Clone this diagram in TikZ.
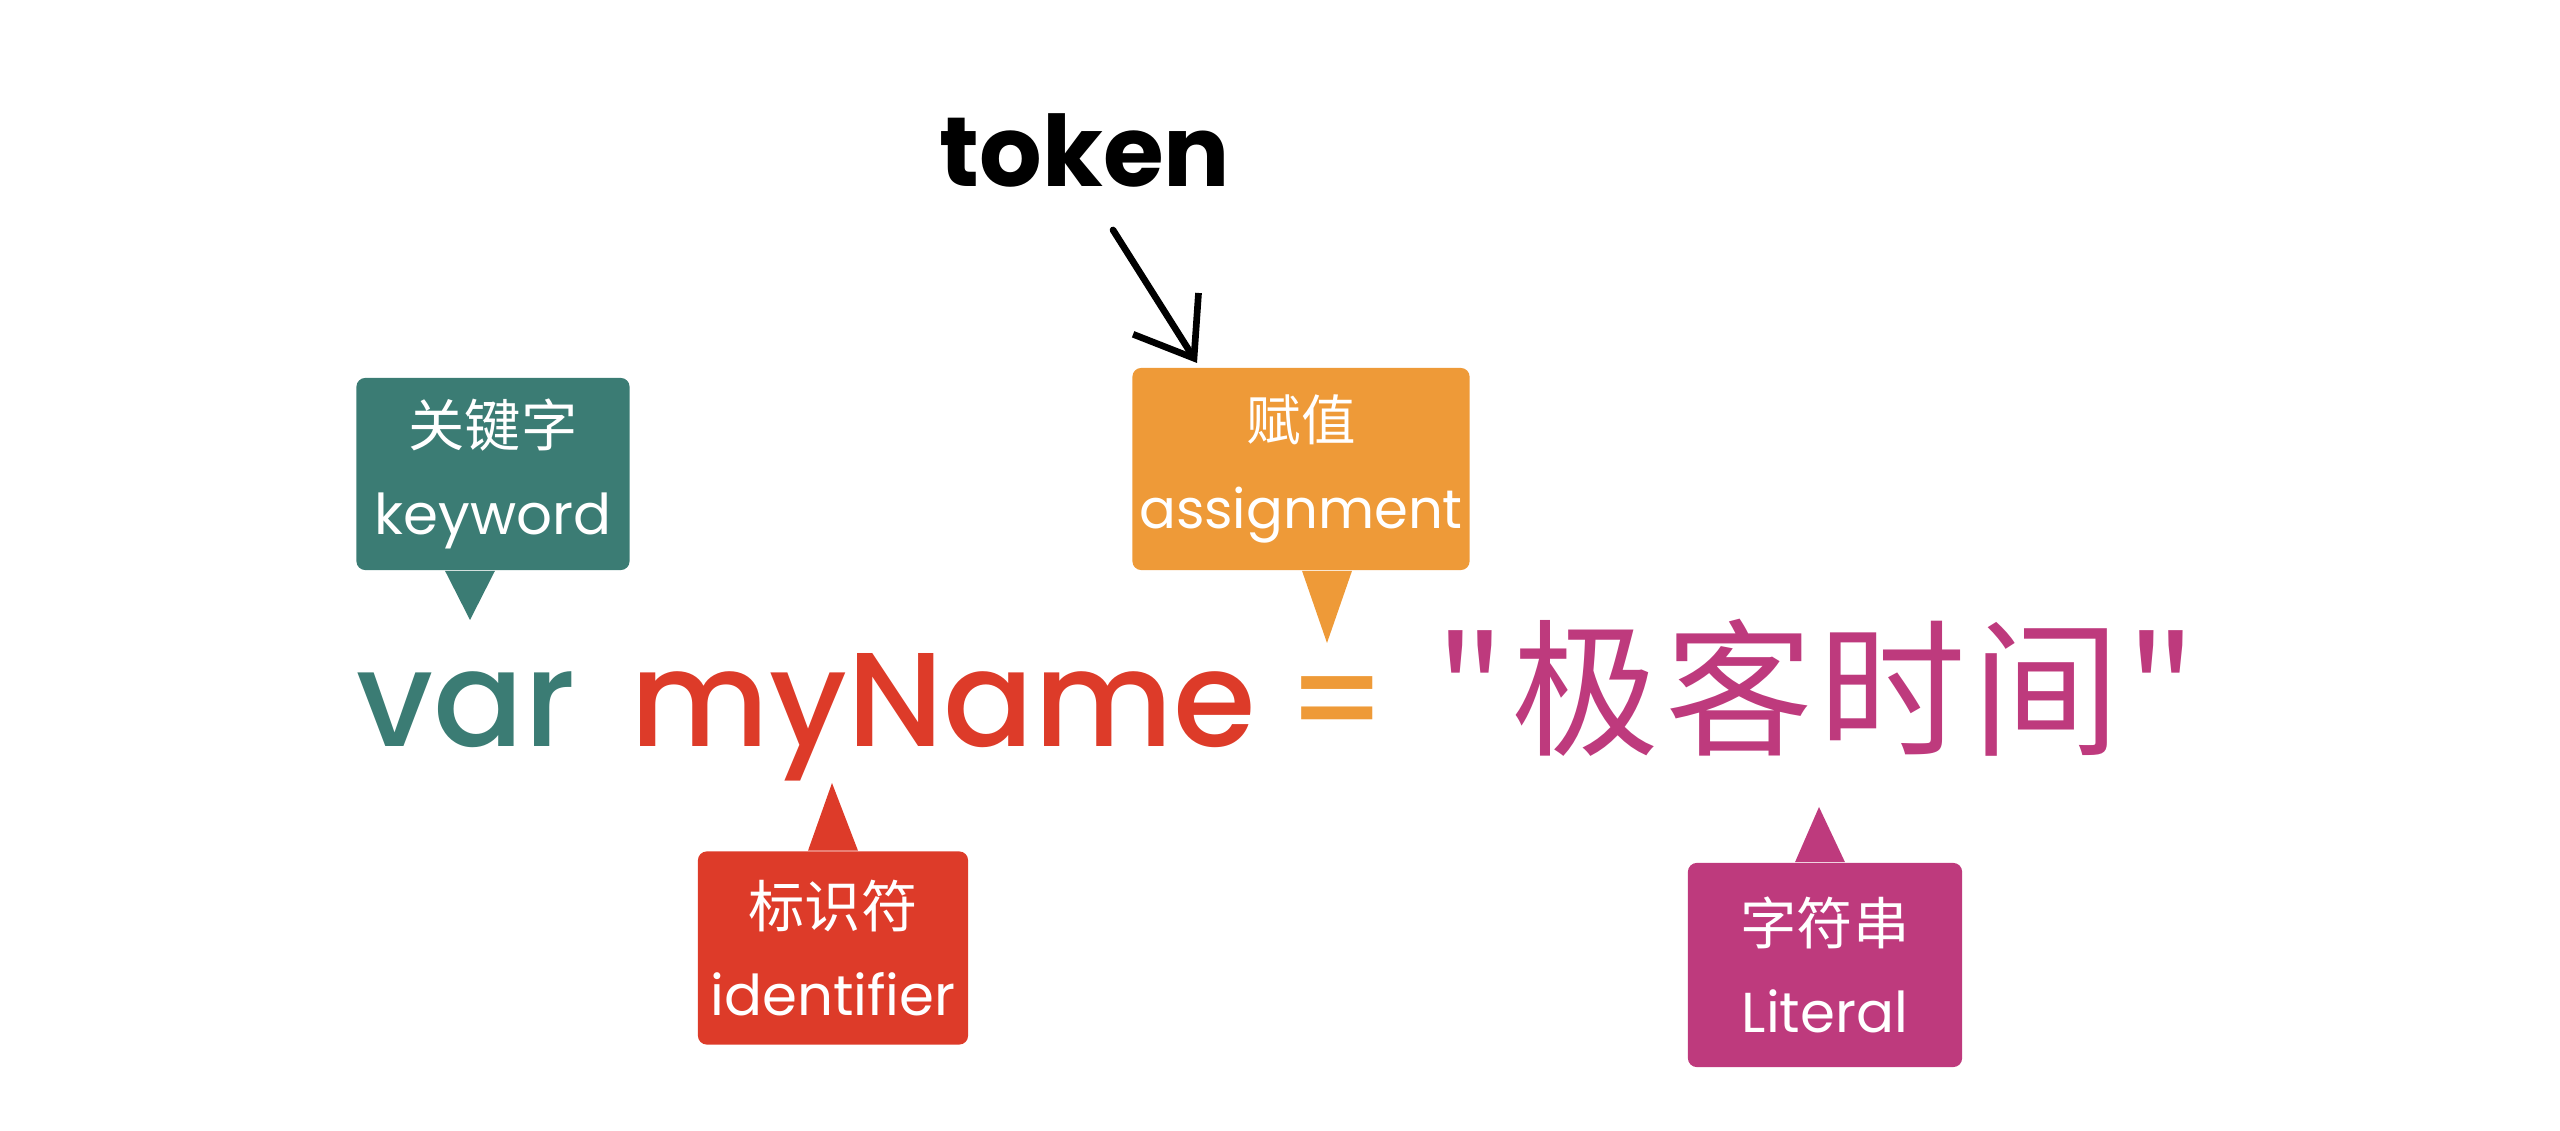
\documentclass[tikz,border=0pt]{standalone}
\usepackage{fontspec}
\setmainfont{Poppins}
\newfontfamily\codefont{Poppins}[UprightFont=* Medium]
\newfontfamily\cjk{Noto Sans CJK SC}
\newfontfamily\cjkwide[LetterSpace=4]{Noto Sans CJK SC}
\usetikzlibrary{arrows.meta}
\definecolor{kwteal}{HTML}{3B7C74}
\definecolor{asorange}{HTML}{EE9A38}
\definecolor{idred}{HTML}{DD3B29}
\definecolor{litpink}{HTML}{BE3A7D}
\tikzset{
    callout/.style={rounded corners=2.5pt, text=white, align=center, inner sep=0pt,
        font=\fontsize{16}{25}\selectfont},
    code/.style={anchor=base west, inner sep=0pt, font=\codefont\fontsize{38}{46}\selectfont},
    tokarrow/.style={line width=1.9pt, line cap=round, -{Straight Barb[length=15pt,width=22pt]}}
}
\begin{document}
\begin{tikzpicture}[x=0.01cm, y=-0.01cm]
    \useasboundingbox (0,0) rectangle (2560,1131);

    \node[code, text=kwteal] (var) at (356,747) {var};
    \node[code, text=idred] (myname) at (630,747) {myName};
    \node[code, anchor=base, text=asorange] (eq) at (1337,747) {=};
    \node[code, text=litpink, font=\fontsize{42}{50}\selectfont] (str) at (1435,745) {\cjkwide "极客时间"};

    \node[callout, fill=kwteal, minimum width=2.73cm, minimum height=1.92cm] (kw) at (493,474)
        {{\cjk 关键字}\\keyword};
    \node[callout, fill=asorange, minimum width=3.37cm, minimum height=2.02cm,
        font=\fontsize{15.5}{25}\selectfont] (as) at (1301,469)
        {{\cjk 赋值}\\assignment};
    \node[callout, fill=idred, minimum width=2.70cm, minimum height=1.93cm] (id) at (833,948)
        {{\cjk 标识符}\\identifier};
    \node[callout, fill=litpink, minimum width=2.74cm, minimum height=2.04cm] (lit) at (1825,965)
        {{\cjk 字符串}\\Literal};

    \coordinate (kwtip) at (470,620);
    \coordinate (astip) at (1327,643);
    \coordinate (idtip) at (832,783);
    \coordinate (littip) at (1819,807);
    \fill[kwteal] ([xshift=-0.48cm]kw.south) -- (kwtip) -- ([xshift=0.02cm]kw.south) -- cycle;
    \fill[asorange] ([xshift=0.01cm]as.south) -- (astip) -- ([xshift=0.51cm]as.south) -- cycle;
    \fill[idred] ([xshift=-0.25cm]id.north) -- (idtip) -- ([xshift=0.25cm]id.north) -- cycle;
    \fill[litpink] ([xshift=-0.30cm]lit.north) -- (littip) -- ([xshift=0.20cm]lit.north) -- cycle;

    \node[font=\fontsize{28}{34}\selectfont\bfseries, anchor=base] (token) at (1085,187) {token};
    \coordinate (tokstart) at (1113,230);
    \coordinate (tokend) at (1197,363);
    \draw[tokarrow] (tokstart) -- (tokend);
\end{tikzpicture}
\end{document}
